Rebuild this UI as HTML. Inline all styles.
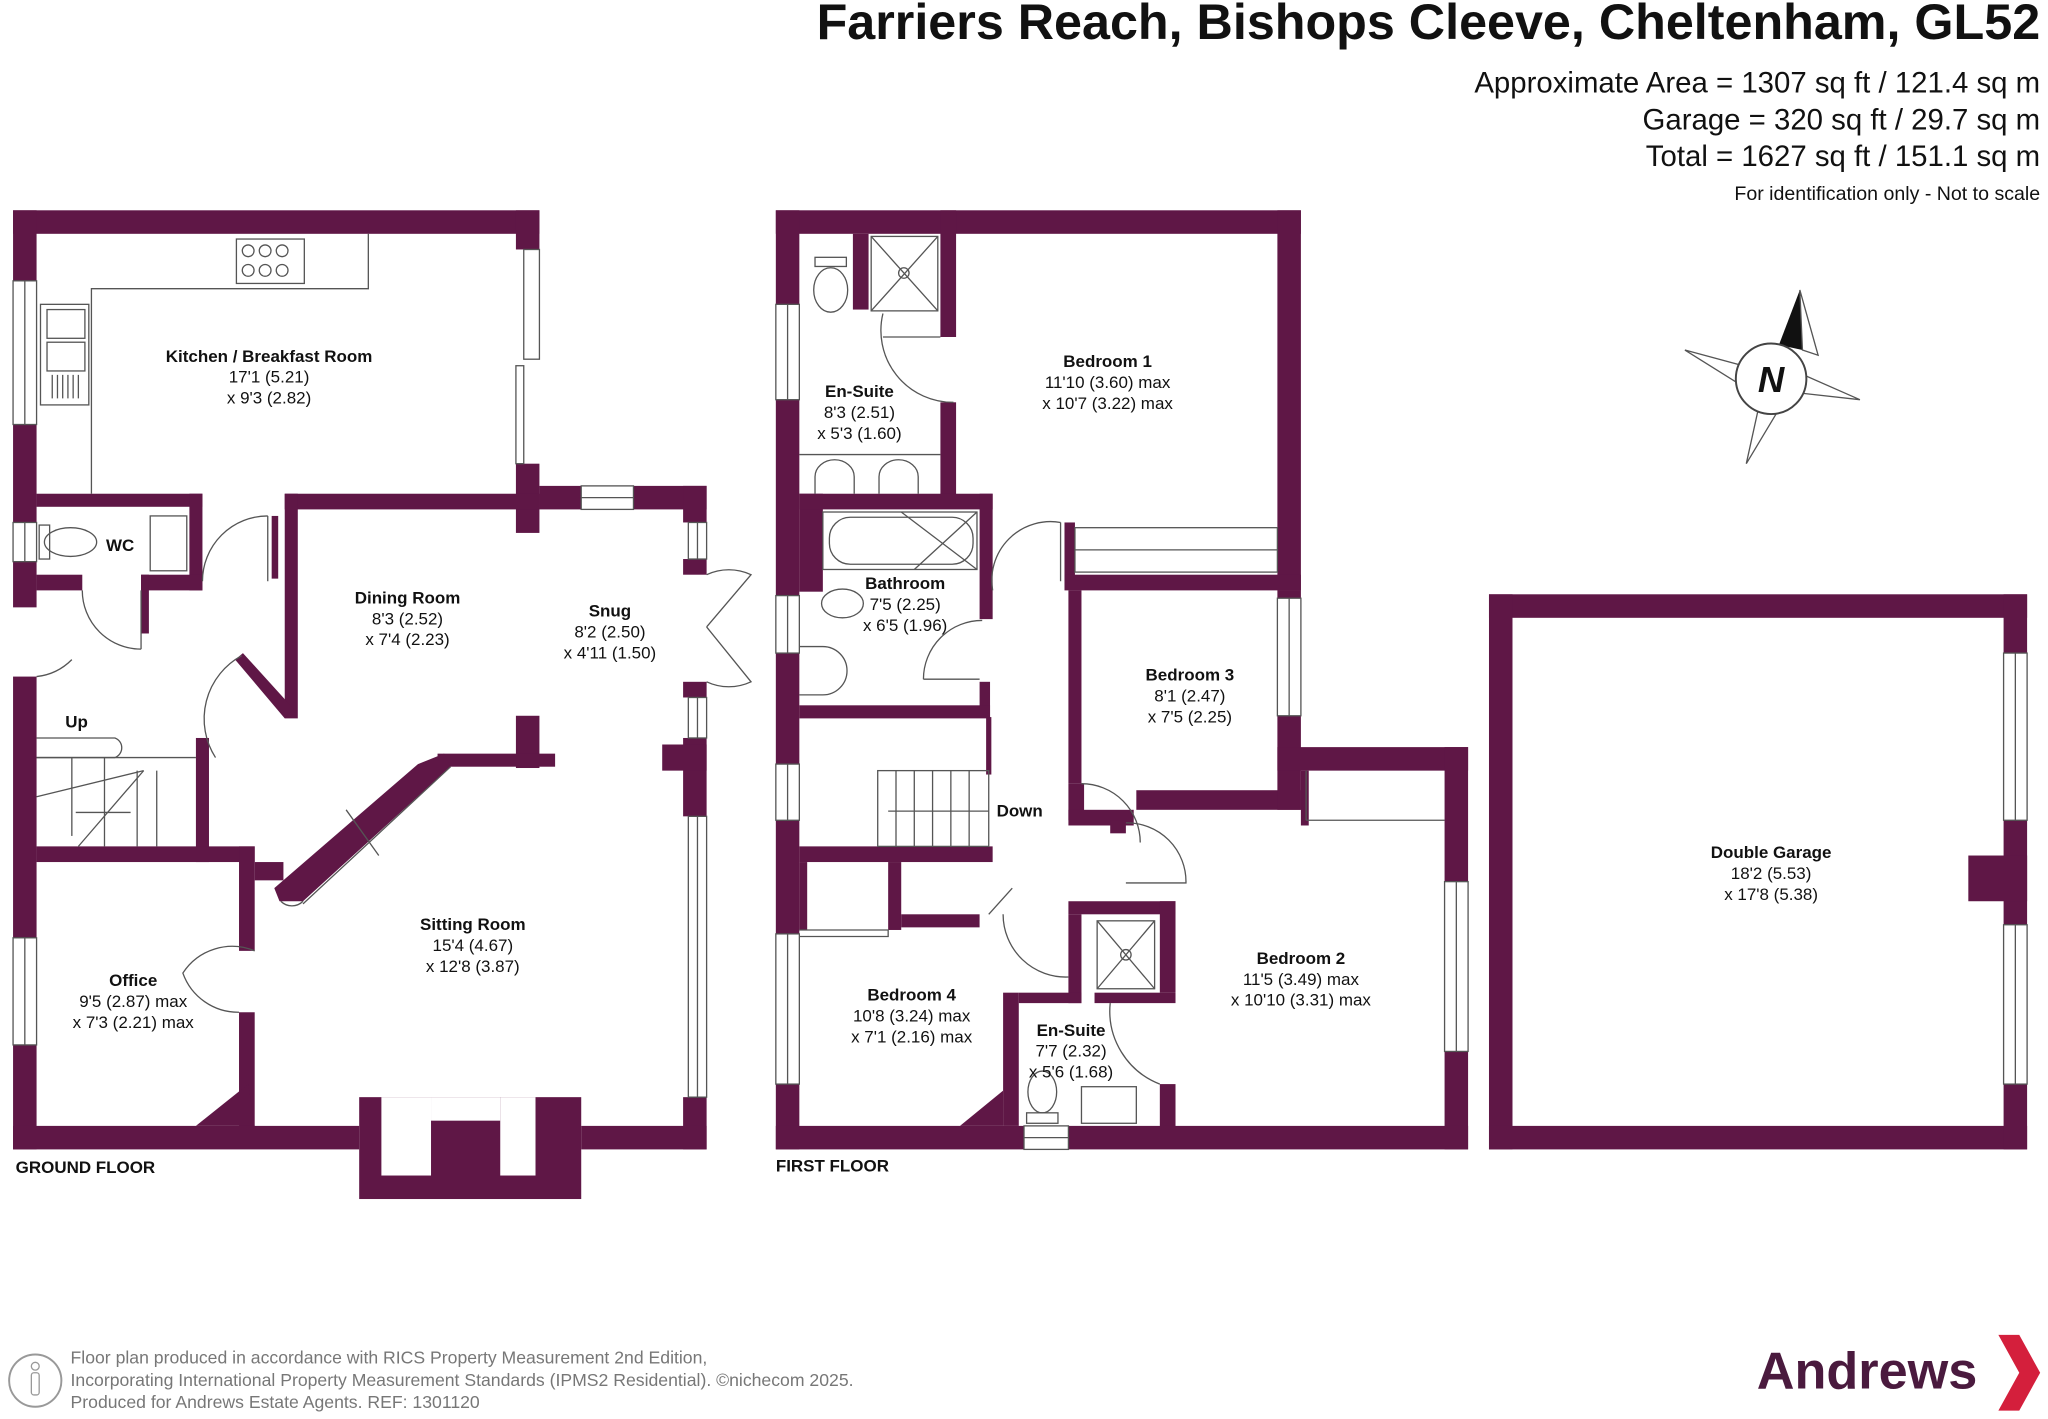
<!DOCTYPE html>
<html><head><meta charset="utf-8"><style>
html,body{margin:0;padding:0;background:#fff;}
svg{display:block;}
text{font-family:"Liberation Sans",Arial,sans-serif;fill:#111;}
.n{font-weight:bold;font-size:13px;text-anchor:middle;}
.d{font-size:13px;text-anchor:middle;}
.f{font-weight:bold;font-size:13px;}
</style></head><body>
<svg width="2048" height="1419" viewBox="0 0 1568 1086.4" xmlns="http://www.w3.org/2000/svg">
<rect width="1568" height="1087" fill="#fff"/>
<g fill="#5f1746">
<rect x="10" y="161" width="403" height="18"/>
<rect x="395" y="161" width="18" height="30"/>
<rect x="395" y="355" width="18" height="53"/>
<rect x="10" y="161" width="18" height="54"/>
<rect x="10" y="325" width="18" height="75"/>
<rect x="10" y="430" width="18" height="35"/>
<rect x="10" y="518" width="18" height="200"/>
<rect x="10" y="800" width="18" height="80"/>
<rect x="28" y="378" width="127" height="10"/>
<rect x="145" y="378" width="10" height="74"/>
<rect x="28" y="440" width="35" height="12"/>
<rect x="108" y="440" width="47" height="12"/>
<rect x="108" y="440" width="6" height="45"/>
<rect x="208" y="395" width="5" height="48"/>
<rect x="218" y="378" width="195" height="12"/>
<rect x="218" y="378" width="10" height="172"/>
<polygon points="180,505 186,500 225,543 218,550"/>
<rect x="413" y="372" width="32" height="18"/>
<rect x="485" y="372" width="56" height="18"/>
<rect x="523" y="372" width="18" height="28"/>
<rect x="523" y="428" width="18" height="12"/>
<rect x="523" y="522" width="18" height="12"/>
<rect x="523" y="565" width="18" height="60"/>
<rect x="507" y="570" width="34" height="20"/>
<rect x="523" y="840" width="18" height="40"/>
<rect x="395" y="548" width="18" height="40"/>
<rect x="335" y="577" width="90" height="10"/>
<polygon points="320,585 340,577 345,587 232,690 214,690 210,680"/>
<rect x="150" y="565" width="10" height="95"/>
<rect x="28" y="648" width="167" height="12"/>
<rect x="183" y="648" width="12" height="80"/>
<rect x="183" y="775" width="12" height="90"/>
<polygon points="150,862 190,830 195,862"/>
<rect x="195" y="660" width="22" height="14"/>
<rect x="10" y="862" width="265" height="18"/>
<rect x="275" y="840" width="170" height="78"/>
<rect x="445" y="862" width="96" height="18"/>
<rect x="594" y="161" width="402" height="18"/>
<rect x="594" y="161" width="18" height="72"/>
<rect x="594" y="306" width="18" height="150"/>
<rect x="594" y="500" width="18" height="85"/>
<rect x="594" y="628" width="18" height="87"/>
<rect x="594" y="830" width="18" height="50"/>
<rect x="612" y="378" width="18" height="75"/>
<rect x="653" y="179" width="12" height="58"/>
<rect x="720" y="161" width="12" height="97"/>
<rect x="720" y="308" width="12" height="72"/>
<rect x="612" y="378" width="148" height="12"/>
<rect x="750" y="378" width="10" height="96"/>
<rect x="750" y="522" width="8" height="27"/>
<rect x="612" y="540" width="146" height="10"/>
<rect x="755" y="549" width="4" height="44"/>
<rect x="612" y="648" width="148" height="12"/>
<rect x="680" y="660" width="10" height="52"/>
<rect x="690" y="700" width="60" height="10"/>
<rect x="612" y="660" width="6" height="52"/>
<rect x="978" y="161" width="18" height="291"/>
<rect x="815" y="400" width="8" height="45"/>
<rect x="815" y="440" width="181" height="12"/>
<rect x="818" y="452" width="10" height="148"/>
<rect x="818" y="600" width="12" height="28"/>
<rect x="870" y="605" width="126" height="15"/>
<rect x="978" y="452" width="18" height="6"/>
<rect x="978" y="548" width="18" height="72"/>
<rect x="978" y="572" width="146" height="18"/>
<rect x="996" y="590" width="6" height="42"/>
<rect x="818" y="620" width="50" height="12"/>
<rect x="850" y="628" width="12" height="10"/>
<rect x="1106" y="572" width="18" height="103"/>
<rect x="1106" y="805" width="18" height="75"/>
<rect x="818" y="690" width="82" height="10"/>
<rect x="888" y="690" width="12" height="70"/>
<rect x="838" y="760" width="62" height="8"/>
<rect x="888" y="830" width="12" height="35"/>
<rect x="818" y="700" width="10" height="68"/>
<rect x="780" y="760" width="48" height="8"/>
<rect x="768" y="760" width="12" height="102"/>
<polygon points="735,862 768,835 768,862"/>
<rect x="594" y="862" width="190" height="18"/>
<rect x="818" y="862" width="306" height="18"/>
<rect x="1140" y="455" width="412" height="18"/>
<rect x="1140" y="455" width="18" height="425"/>
<rect x="1140" y="862" width="412" height="18"/>
<rect x="1534" y="455" width="18" height="45"/>
<rect x="1534" y="628" width="18" height="80"/>
<rect x="1534" y="830" width="18" height="50"/>
<rect x="1507" y="655" width="45" height="35"/>
</g>
<rect x="292" y="840" width="38" height="60" fill="#fff"/>
<rect x="383" y="840" width="27" height="60" fill="#fff"/>
<rect x="330" y="840" width="53" height="18" fill="#fff"/>
<g fill="none" stroke="#555" stroke-width="1">
<rect x="10" y="215" width="18" height="110"/><line x1="19" y1="215" x2="19" y2="325"/>
<rect x="10" y="400" width="18" height="30"/><line x1="19" y1="400" x2="19" y2="430"/>
<rect x="10" y="718" width="18" height="82"/><line x1="19" y1="718" x2="19" y2="800"/>
<rect x="401" y="191" width="12" height="84"/><rect x="395" y="280" width="6" height="75"/>
<rect x="445" y="372" width="40" height="18"/><line x1="445" y1="381" x2="485" y2="381"/>
<rect x="527" y="400" width="14" height="28"/><line x1="534" y1="400" x2="534" y2="428"/>
<rect x="527" y="534" width="14" height="31"/><line x1="534" y1="534" x2="534" y2="565"/>
<rect x="527" y="625" width="14" height="215"/><line x1="534" y1="625" x2="534" y2="840"/>
<rect x="594" y="233" width="18" height="73"/><line x1="603" y1="233" x2="603" y2="306"/>
<rect x="594" y="456" width="18" height="44"/><line x1="603" y1="456" x2="603" y2="500"/>
<rect x="594" y="585" width="18" height="43"/><line x1="603" y1="585" x2="603" y2="628"/>
<rect x="594" y="715" width="18" height="115"/><line x1="603" y1="715" x2="603" y2="830"/>
<rect x="978" y="458" width="18" height="90"/><line x1="987" y1="458" x2="987" y2="548"/>
<rect x="1106" y="675" width="18" height="130"/><line x1="1115" y1="675" x2="1115" y2="805"/>
<rect x="1534" y="500" width="18" height="128"/><line x1="1543" y1="500" x2="1543" y2="628"/>
<rect x="1534" y="708" width="18" height="122"/><line x1="1543" y1="708" x2="1543" y2="830"/>
<rect x="784" y="862" width="34" height="18"/><line x1="784" y1="871" x2="818" y2="871"/>
<polyline points="70,378 70,221 282,221 282,179"/>
<rect x="181" y="183" width="52" height="34"/>
<circle cx="190" cy="192" r="4.5"/><circle cx="203" cy="192" r="4.5"/><circle cx="216" cy="192" r="4.5"/>
<circle cx="190" cy="207" r="4.5"/><circle cx="203" cy="207" r="4.5"/><circle cx="216" cy="207" r="4.5"/>
<rect x="31" y="233" width="37" height="77"/>
<rect x="36" y="237" width="29" height="22"/><rect x="36" y="262" width="29" height="22"/>
<line x1="40" y1="287" x2="40" y2="305"/><line x1="44" y1="287" x2="44" y2="305"/><line x1="48" y1="287" x2="48" y2="305"/><line x1="52" y1="287" x2="52" y2="305"/><line x1="56" y1="287" x2="56" y2="305"/><line x1="60" y1="287" x2="60" y2="305"/>
<ellipse cx="54" cy="415" rx="20" ry="11"/><rect x="30" y="402" width="8" height="26"/>
<rect x="115" y="395" width="28" height="42"/>
<path d="M155,445 A50,50 0 0 1 205,395"/><line x1="205" y1="395" x2="205" y2="445"/>
<path d="M63,452 A45,45 0 0 0 108,497"/><line x1="108" y1="452" x2="108" y2="497"/>
<path d="M28,518 A45,45 0 0 0 55,505"/>
<path d="M185,502 A55,55 0 0 0 165,580"/>
<path d="M195,728 A45,45 0 0 0 140,745 A45,45 0 0 0 183,775"/>
<path d="M541,440 A40,40 0 0 1 575,440 L541,480 M541,522 A40,40 0 0 0 575,522 L541,480"/>
<path d="M232,690 A12,12 0 0 1 215,690"/>
<line x1="345" y1="587" x2="232" y2="692"/>
<line x1="265" y1="620" x2="290" y2="655"/>
<path d="M28,565 L88,565 A8,8 0 0 1 88,580 L28,580"/>
<line x1="28" y1="580" x2="150" y2="580"/><line x1="28" y1="610" x2="110" y2="590"/>
<line x1="55" y1="580" x2="55" y2="640"/><line x1="80" y1="580" x2="80" y2="648"/>
<line x1="105" y1="590" x2="105" y2="648"/><line x1="120" y1="590" x2="120" y2="648"/>
<line x1="60" y1="648" x2="110" y2="590"/><line x1="58" y1="622" x2="100" y2="622"/>
<ellipse cx="636" cy="222" rx="13" ry="17"/><rect x="624" y="197" width="24" height="7"/>
<rect x="667" y="181" width="51" height="57"/><line x1="667" y1="181" x2="718" y2="238"/><line x1="718" y1="181" x2="667" y2="238"/>
<circle cx="692" cy="209" r="4"/>
<path d="M676,240 A55,55 0 0 0 730,308"/><line x1="676" y1="258" x2="720" y2="258"/>
<line x1="612" y1="348" x2="720" y2="348"/>
<path d="M624,378 L624,365 A15,13 0 0 1 654,365 L654,378"/>
<path d="M673,378 L673,365 A15,13 0 0 1 703,365 L703,378"/>
<rect x="630" y="392" width="118" height="44"/><rect x="635" y="396" width="110" height="36" rx="16"/>
<line x1="690" y1="392" x2="748" y2="436"/><line x1="748" y1="392" x2="700" y2="436"/>
<ellipse cx="645" cy="462" rx="16" ry="11"/>
<path d="M612,495 L630,495 A18,18 0 0 1 630,532 L612,532"/>
<path d="M760,452 A45,45 0 0 1 812,400"/><line x1="812" y1="400" x2="812" y2="445"/>
<path d="M707,520 A45,45 0 0 1 752,475"/><line x1="707" y1="520" x2="750" y2="520"/>
<rect x="823" y="404" width="155" height="34"/><line x1="823" y1="421" x2="978" y2="421"/>
<rect x="672" y="590" width="85" height="58"/>
<line x1="686" y1="590" x2="686" y2="648"/><line x1="700" y1="590" x2="700" y2="648"/><line x1="714" y1="590" x2="714" y2="648"/><line x1="728" y1="590" x2="728" y2="648"/><line x1="742" y1="590" x2="742" y2="648"/>
<line x1="680" y1="621" x2="757" y2="621"/>
<path d="M828,600 A45,45 0 0 1 873,645"/><path d="M862,630 A45,45 0 0 1 908,676 L862,676"/>
<path d="M768,700 A48,48 0 0 0 818,748"/>
<path d="M757,700 L775,680"/>
<path d="M612,712 L680,712 L680,717 L612,717"/>
<line x1="1000" y1="628" x2="1106" y2="628"/><line x1="1000" y1="590" x2="1000" y2="628"/>
<rect x="840" y="705" width="44" height="52"/><line x1="840" y1="705" x2="884" y2="757"/><line x1="884" y1="705" x2="840" y2="757"/><circle cx="862" cy="731" r="4"/>
<path d="M850,768 A60,60 0 0 0 888,830"/>
<ellipse cx="798" cy="836" rx="11" ry="16"/><rect x="786" y="852" width="24" height="8"/>
<rect x="828" y="832" width="42" height="28"/>
<polygon points="1290,268 1342,282 1338,298" />
<polygon points="1424,306 1370,300 1374,284"/>
<polygon points="1337,355 1348,305 1364,310"/>
</g>
<polygon points="1378,222 1362,264 1380,268" fill="#111"/>
<polygon points="1378,222 1380,268 1392,272" fill="#fff" stroke="#555"/>
<circle cx="1356" cy="290" r="27" fill="#fff" stroke="#444" stroke-width="1.5"/>
<text x="1356" y="300" font-size="28" font-weight="bold" font-style="italic" text-anchor="middle">N</text>
<text x="1562" y="30" font-size="38.5" font-weight="bold" text-anchor="end">Farriers Reach, Bishops Cleeve, Cheltenham, GL52</text>
<text x="1562" y="71" font-size="22.5" text-anchor="end">Approximate Area = 1307 sq ft / 121.4 sq m</text>
<text x="1562" y="99" font-size="22.5" text-anchor="end">Garage = 320 sq ft / 29.7 sq m</text>
<text x="1562" y="127" font-size="22.5" text-anchor="end">Total = 1627 sq ft / 151.1 sq m</text>
<text x="1562" y="153" font-size="15" text-anchor="end">For identification only - Not to scale</text>
<text class="n" x="206" y="277">Kitchen / Breakfast Room</text><text class="d" x="206" y="293">17'1 (5.21)</text><text class="d" x="206" y="309">x 9'3 (2.82)</text>
<text class="n" x="92" y="422">WC</text>
<text class="f" x="50" y="557" font-size="12">Up</text>
<text class="n" x="312" y="462">Dining Room</text><text class="d" x="312" y="478">8'3 (2.52)</text><text class="d" x="312" y="494">x 7'4 (2.23)</text>
<text class="n" x="467" y="472">Snug</text><text class="d" x="467" y="488">8'2 (2.50)</text><text class="d" x="467" y="504">x 4'11 (1.50)</text>
<text class="n" x="362" y="712">Sitting Room</text><text class="d" x="362" y="728">15'4 (4.67)</text><text class="d" x="362" y="744">x 12'8 (3.87)</text>
<text class="n" x="102" y="755">Office</text><text class="d" x="102" y="771">9'5 (2.87) max</text><text class="d" x="102" y="787">x 7'3 (2.21) max</text>
<text class="f" x="12" y="898">GROUND FLOOR</text>
<text class="n" x="658" y="304">En-Suite</text><text class="d" x="658" y="320">8'3 (2.51)</text><text class="d" x="658" y="336">x 5'3 (1.60)</text>
<text class="n" x="848" y="281">Bedroom 1</text><text class="d" x="848" y="297">11'10 (3.60) max</text><text class="d" x="848" y="313">x 10'7 (3.22) max</text>
<text class="n" x="693" y="451">Bathroom</text><text class="d" x="693" y="467">7'5 (2.25)</text><text class="d" x="693" y="483">x 6'5 (1.96)</text>
<text class="n" x="911" y="521">Bedroom 3</text><text class="d" x="911" y="537">8'1 (2.47)</text><text class="d" x="911" y="553">x 7'5 (2.25)</text>
<text class="f" x="763" y="625" font-size="12">Down</text>
<text class="n" x="996" y="738">Bedroom 2</text><text class="d" x="996" y="754">11'5 (3.49) max</text><text class="d" x="996" y="770">x 10'10 (3.31) max</text>
<text class="n" x="698" y="766">Bedroom 4</text><text class="d" x="698" y="782">10'8 (3.24) max</text><text class="d" x="698" y="798">x 7'1 (2.16) max</text>
<text class="n" x="820" y="793">En-Suite</text><text class="d" x="820" y="809">7'7 (2.32)</text><text class="d" x="820" y="825">x 5'6 (1.68)</text>
<text class="f" x="594" y="897">FIRST FLOOR</text>
<text class="n" x="1356" y="657">Double Garage</text><text class="d" x="1356" y="673">18'2 (5.53)</text><text class="d" x="1356" y="689">x 17'8 (5.38)</text>
<circle cx="27" cy="1057" r="20" fill="none" stroke="#999" stroke-width="1.5"/>
<circle cx="27" cy="1046" r="3" fill="none" stroke="#999"/><rect x="24" y="1051" width="6" height="17" rx="2" fill="none" stroke="#999"/>
<text x="54" y="1044" font-size="13.5" style="fill:#777">Floor plan produced in accordance with RICS Property Measurement 2nd Edition,</text>
<text x="54" y="1061" font-size="13.5" style="fill:#777">Incorporating International Property Measurement Standards (IPMS2 Residential).  ©nichecom 2025.</text>
<text x="54" y="1078" font-size="13.5" style="fill:#777">Produced for Andrews Estate Agents.  REF: 1301120</text>
<text x="1345" y="1063" font-size="40" font-weight="bold" style="fill:#4a1a3e">Andrews</text>
<polygon points="1530,1022 1546,1022 1562,1051 1546,1080 1530,1080 1546,1051" fill="#d41f3c"/>
</svg>
</body></html>
